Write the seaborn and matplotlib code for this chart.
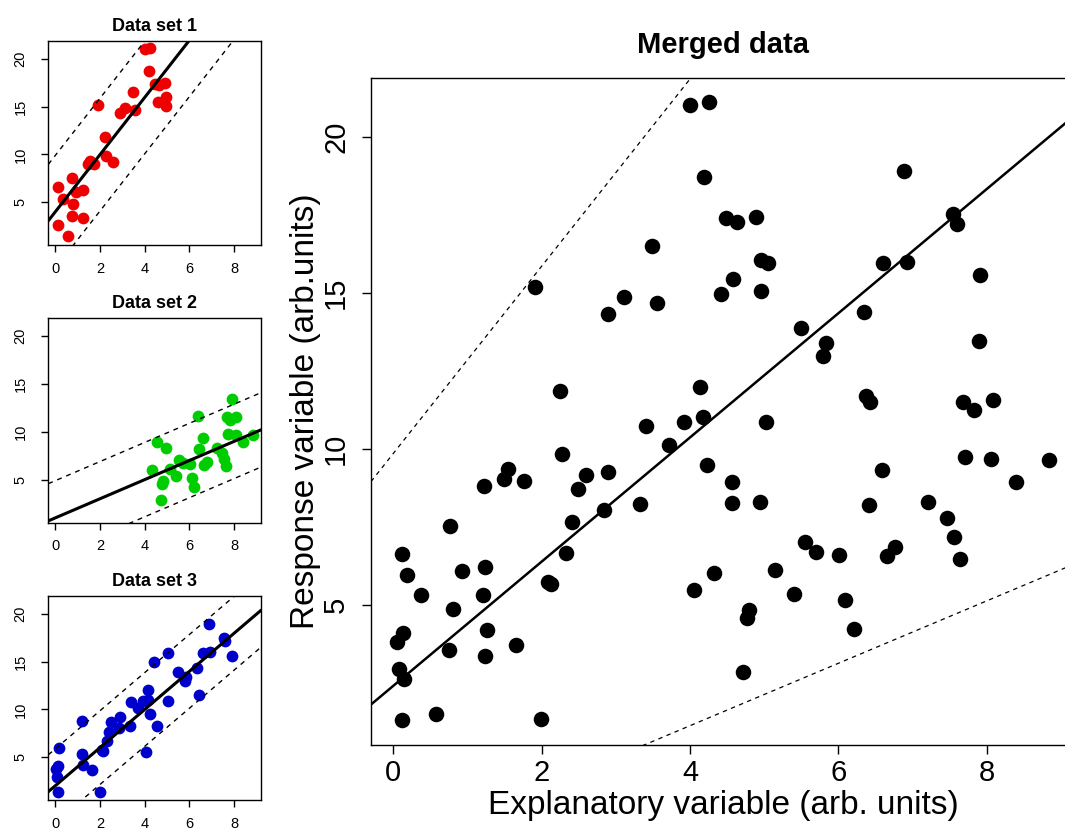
import numpy as np
import pandas as pd
import matplotlib
matplotlib.use("Agg")
import matplotlib.pyplot as plt
import seaborn as sns

# ---- data -------------------------------------------------------------
set1_x = [4.00, 4.25, 4.19, 3.49, 1.91, 3.11, 2.90, 3.56, 4.48, 4.63,
          4.89, 4.96, 4.58, 4.96, 2.25, 2.28, 1.55, 1.49, 1.76, 2.60,
          0.11, 0.77, 0.93, 1.24, 0.37, 0.80, 0.75, 1.23, 0.15, 0.58]
set1_y = [21.01, 21.10, 18.72, 16.50, 15.17, 14.86, 14.31, 14.66, 17.40, 17.28,
          17.44, 16.05, 15.43, 15.05, 11.86, 9.84, 9.34, 9.02, 8.97, 9.15,
          6.63, 7.51, 6.08, 6.22, 5.31, 4.85, 3.56, 3.36, 2.61, 1.50]

set2_x = [7.90, 6.38, 7.68, 7.83, 8.09, 4.56, 4.95, 4.33, 6.59, 6.42,
          7.71, 8.06, 8.84, 8.40, 7.21, 7.46, 7.56, 7.64, 5.55, 5.70,
          6.01, 6.77, 6.65, 5.14, 5.40, 6.09, 6.21, 4.80, 4.77, 4.72]
set2_y = [13.46, 11.69, 11.51, 11.24, 11.56, 8.93, 8.29, 6.03, 9.32, 8.19,
          9.74, 9.66, 9.63, 8.93, 8.30, 7.77, 7.18, 6.47, 7.02, 6.69,
          6.59, 6.86, 6.55, 6.12, 5.33, 5.15, 4.22, 4.82, 4.58, 2.83]

set3_x = [6.89, 7.55, 7.60, 5.05, 4.42, 6.60, 6.92, 7.91, 5.50, 5.83,
          5.80, 6.34, 6.43, 4.14, 3.40, 3.92, 4.17, 3.72, 4.23, 5.03,
          2.49, 2.89, 2.84, 3.33, 4.56, 2.41, 2.33, 2.08, 2.13, 4.06,
          1.22, 0.19, 1.21, 0.13, 0.05, 1.26, 1.66, 0.07, 0.12, 1.99]
set3_y = [18.91, 17.51, 17.20, 15.94, 14.96, 15.94, 15.98, 15.57, 13.88, 13.40,
          12.98, 14.37, 11.51, 11.99, 10.72, 10.86, 11.01, 10.12, 9.47, 10.85,
          8.72, 9.24, 8.04, 8.24, 8.26, 7.64, 6.66, 5.72, 5.66, 5.48,
          8.79, 5.96, 5.30, 4.08, 3.80, 4.20, 3.70, 2.95, 1.30, 1.33]

# regression line and 95% band half-width for each data set
set_titles = ["Data set 1", "Data set 2", "Data set 3"]
line_intercept = [3.95, 1.0, 1.98]
line_slope = [3.0, 1.0, 2.0]
band_halfwidth = [5.9, 3.88, 3.86]

# line fitted to the pooled data
merged_intercept = 2.40
merged_slope = 1.99

x_ticks = [0, 2, 4, 6, 8]
y_ticks = [5, 10, 15, 20]

# ---- styling -------------------------------------------------------------
sns.set_theme(style="ticks")
plt.rcParams["font.family"] = ["Liberation Sans", "DejaVu Sans"]
for key in ("text.color", "axes.labelcolor", "xtick.color", "ytick.color",
            "axes.edgecolor"):
    plt.rcParams[key] = "black"

colors = ["#EE0000", "#00CD00", "#0000CD"]

sets = [pd.DataFrame({"x": set1_x, "y": set1_y}),
        pd.DataFrame({"x": set2_x, "y": set2_y}),
        pd.DataFrame({"x": set3_x, "y": set3_y})]
merged = pd.concat(sets, ignore_index=True)

# R-style limits: data range padded by 4% on each side
def padded(v):
    lo, hi = float(np.min(v)), float(np.max(v))
    r = hi - lo
    return lo - 0.04 * r, hi + 0.04 * r

xlim = padded(merged["x"])
ylim = padded(merged["y"])
xs = np.linspace(xlim[0], xlim[1], 200)

W, H = 1065, 833
fig = plt.figure(figsize=(W / 100, H / 100), dpi=100)


def frame(ax, tick_fs, tick_len, xpad, ypad):
    ax.set_xlim(xlim)
    ax.set_ylim(ylim)
    ax.set_xticks(x_ticks)
    ax.set_yticks(y_ticks)
    for s in ax.spines.values():
        s.set_visible(True)
        s.set_linewidth(1.0)
        s.set_color("black")
    ax.tick_params(axis="both", direction="out", length=tick_len, width=1.0,
                   colors="black", labelcolor="black", labelsize=tick_fs)
    ax.tick_params(axis="x", pad=xpad)
    ax.tick_params(axis="y", pad=ypad)
    for lab in ax.get_yticklabels():
        lab.set_rotation(90)
        lab.set_va("center")
        lab.set_ha("right")
    ax.set_xlabel("")
    ax.set_ylabel("")


# ---- small panels -----------------------------------------------------
small_rects = [
    [48.3 / W, 1 - 245.0 / H, 212.7 / W, 204.3 / H],
    [48.3 / W, 1 - 522.7 / H, 212.7 / W, 205.0 / H],
    [48.3 / W, 1 - 800.0 / H, 212.7 / W, 204.3 / H],
]
for i, rect in enumerate(small_rects):
    ax = fig.add_axes(rect)
    sns.scatterplot(data=sets[i], x="x", y="y", ax=ax, color=colors[i],
                    s=72, linewidth=0, zorder=3)
    b0, b1, hw = line_intercept[i], line_slope[i], band_halfwidth[i]
    ax.plot(xs, b0 + b1 * xs, color="black", lw=2.2, zorder=4)
    ax.plot(xs, b0 + hw + b1 * xs, color="black", lw=1.0,
            linestyle=(0, (3.5, 3.5)), zorder=4)
    ax.plot(xs, b0 - hw + b1 * xs, color="black", lw=1.0,
            linestyle=(0, (3.5, 3.5)), zorder=4)
    frame(ax, tick_fs=10.5, tick_len=5, xpad=7, ypad=10)
    ax.set_title(set_titles[i], fontsize=13, fontweight="bold", pad=7,
                 color="black")

# ---- merged panel -----------------------------------------------------
axm = fig.add_axes([371.0 / W, 1 - 744.8 / H, 704.0 / W, 667.1 / H])
sns.scatterplot(data=merged, x="x", y="y", ax=axm, color="black",
                s=125, linewidth=0, zorder=3)
axm.plot(xs, merged_intercept + merged_slope * xs, color="black", lw=1.8, zorder=4)
# outer envelope: upper band of set 1, lower band of set 2
upper = line_intercept[0] + band_halfwidth[0] + line_slope[0] * xs
lower = line_intercept[1] - band_halfwidth[1] + line_slope[1] * xs
axm.plot(xs, upper, color="black", lw=0.9, linestyle=(0, (3.5, 3.5)), zorder=4)
axm.plot(xs, lower, color="black", lw=0.9, linestyle=(0, (3.5, 3.5)), zorder=4)
frame(axm, tick_fs=21, tick_len=6.5, xpad=4, ypad=8.5)
axm.set_title("Merged data", fontsize=21, fontweight="bold", pad=18, color="black")
axm.set_xlabel("Explanatory variable (arb. units)", fontsize=24, labelpad=2,
               color="black")
axm.set_ylabel("Response variable (arb.units)", fontsize=24, labelpad=1,
               color="black")

fig.savefig("out.png", dpi=100)
